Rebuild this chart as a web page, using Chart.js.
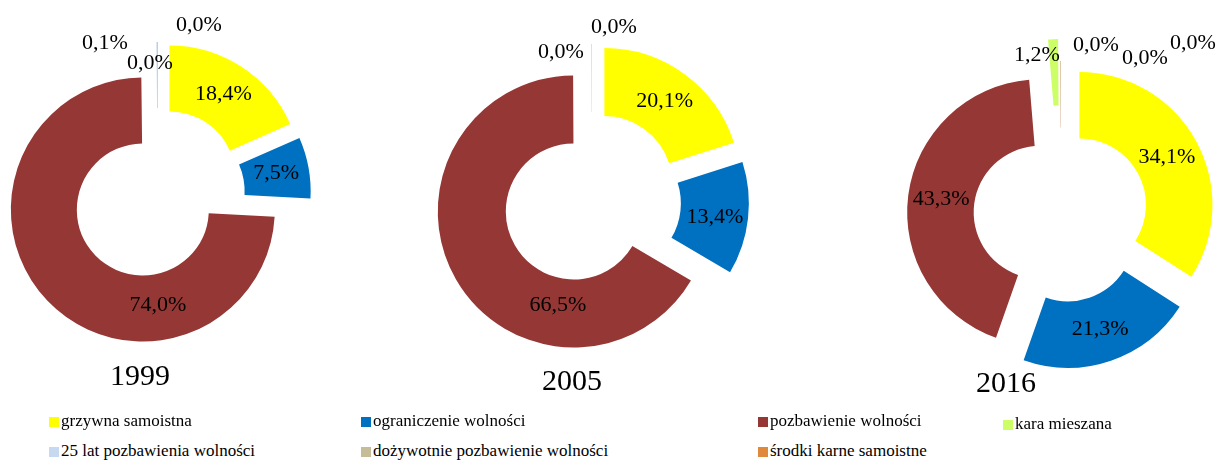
<!DOCTYPE html>
<html>
<head>
<meta charset="utf-8">
<script src="https://cdn.jsdelivr.net/npm/chart.js@4.4.1/dist/chart.umd.min.js"></script>
<style>
  body { margin: 0; background: #fff; }
  #wrap { position: relative; width: 1219px; height: 461px; overflow: hidden; background: #fff; }
  #wrap canvas { position: absolute; }
  .sq { position: absolute; width: 10px; height: 10px; }
  .lt { position: absolute; font-family: "Liberation Serif", serif; font-size: 17px; line-height: 20px; color: #000; white-space: nowrap; }
</style>
</head>
<body>
<div id="wrap">
  <canvas id="c1999" width="420" height="420"></canvas>
  <canvas id="c2005" width="420" height="420"></canvas>
  <canvas id="c2016" width="420" height="420"></canvas>
</div>
<script>
const categories = ['grzywna samoistna', 'ograniczenie wolności', 'pozbawienie wolności', 'kara mieszana',
  '25 lat pozbawienia wolności', 'dożywotnie pozbawienie wolności', 'środki karne samoistne'];
const colors = ['#FFFF00', '#0070C0', '#953735', '#CCFF66', '#C6D9F1', '#C4BD97', '#E0883C'];
const years = ['1999', '2005', '2016'];

// udział kar (%), null = brak kategorii w danym roku
const values1999 = [18.4, 7.5, 74.0, null, 0.1, 0.04, 0.04];
const values2005 = [20.1, 13.4, 66.5, null, 0.04, 0.04, null];
const values2016 = [34.1, 21.3, 43.3, 1.2, 0.04, 0.04, 0.04];

const SIZE = 420;
const EXPLODE = 21;

// położenie wykresów i etykiet (na stronie)
const layout = [
  { id: 'c1999', values: values1999, cx: 158, cy: 195, r: 132, yearX: 140, yearY: 385,
    explode: {}, labelAt: { 2: [0, 110], 4: [-53, -152], 5: [-8, -132], 6: [41, -170] } },
  { id: 'c2005', values: values2005, cx: 592, cy: 201, r: 136, yearX: 572, yearY: 390,
    explode: {}, labelAt: { 1: [123, 16], 2: [-34, 104], 4: [-31, -149], 5: [22, -174] } },
  { id: 'c2016', values: values2016, cx: 1061, cy: 215, r: 133, yearX: 1006, yearY: 392,
    explode: { 3: 43 }, labelAt: { 3: [-24, -160], 4: [35, -170], 5: [84, -157], 6: [132, -172] } }
];

// wysunięte wycinki jak w Excelu (offset z Chart.js zmienia też promień)
const arcDraw = Chart.ArcElement.prototype.draw;
Chart.ArcElement.prototype.draw = function (ctx) {
  const d = this.$explode !== undefined ? this.$explode : EXPLODE;
  const mid = (this.startAngle + this.endAngle) / 2;
  ctx.save();
  ctx.translate(Math.cos(mid) * d, Math.sin(mid) * d);
  arcDraw.call(this, ctx);
  ctx.restore();
};

const labelPlugin = {
  id: 'pctLabels',
  beforeDatasetsDraw(chart, args, opts) {
    const cfg = opts.cfg;
    chart.getDatasetMeta(0).data.forEach((arc, i) => {
      arc.$explode = cfg.explode[i] !== undefined ? cfg.explode[i] : EXPLODE;
    });
  },
  afterDatasetsDraw(chart, args, opts) {
    const cfg = opts.cfg;
    const ctx = chart.ctx;
    const data = chart.data.datasets[0].data;
    const meta = chart.getDatasetMeta(0);
    ctx.save();
    ctx.fillStyle = '#000';
    ctx.font = '22px "Liberation Serif"';
    ctx.textAlign = 'center';
    ctx.textBaseline = 'middle';
    let cx = 0, cy = 0;
    meta.data.forEach((arc, i) => {
      const p = arc.getProps(['x', 'y', 'startAngle', 'endAngle', 'innerRadius', 'outerRadius']);
      cx = p.x; cy = p.y;
      const v = data[i];
      if (v === null) return;
      let x, y;
      if (cfg.labelAt[i]) {
        x = p.x + cfg.labelAt[i][0];
        y = p.y + cfg.labelAt[i][1];
      } else {
        const mid = (p.startAngle + p.endAngle) / 2;
        const rr = (p.innerRadius + p.outerRadius) / 2 + arc.$explode;
        x = p.x + Math.cos(mid) * rr;
        y = p.y + Math.sin(mid) * rr;
      }
      ctx.fillText(v.toFixed(1).replace('.', ',') + '%', x, y);
    });
    ctx.font = '30px "Liberation Serif"';
    ctx.textBaseline = 'alphabetic';
    ctx.fillText(cfg.year, cx + cfg.yearX - cfg.cx, cy + cfg.yearY - cfg.cy);
    ctx.restore();
  }
};

layout.forEach((cfg, k) => {
  cfg.year = years[k];
  const el = document.getElementById(cfg.id);
  el.style.left = (cfg.cx - SIZE / 2) + 'px';
  el.style.top = (cfg.cy - SIZE / 2) + 'px';
  new Chart(el, {
    type: 'doughnut',
    data: {
      labels: categories,
      datasets: [{
        data: cfg.values,
        backgroundColor: colors,
        borderWidth: 0
      }]
    },
    options: {
      responsive: false,
      animation: false,
      events: [],
      radius: cfg.r,
      cutout: '50%',
      layout: { padding: 0 },
      plugins: {
        legend: { display: false },
        tooltip: { enabled: false },
        pctLabels: { cfg: cfg }
      }
    },
    plugins: [labelPlugin]
  });
});

// legenda
const legendCols = [49, 361, 758, 1003];
const legendRows = [417, 447];
const wrap = document.getElementById('wrap');
categories.forEach((name, i) => {
  const row = i < 4 ? 0 : 1;
  const col = i < 4 ? i : i - 4;
  const dy = i === 3 ? 3 : 0;
  const sq = document.createElement('div');
  sq.className = 'sq';
  sq.style.background = colors[i];
  sq.style.left = legendCols[col] + 'px';
  sq.style.top = (legendRows[row] + dy) + 'px';
  wrap.appendChild(sq);
  const t = document.createElement('div');
  t.className = 'lt';
  t.textContent = name;
  t.style.left = (legendCols[col] + 12) + 'px';
  t.style.top = (legendRows[row] - 6 + dy) + 'px';
  wrap.appendChild(t);
});
</script>
</body>
</html>
